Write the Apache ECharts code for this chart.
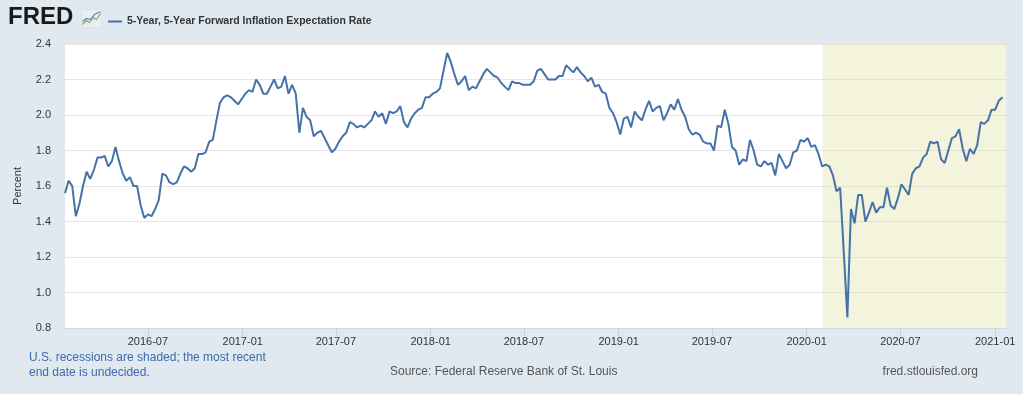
<!DOCTYPE html>
<html><head><meta charset="utf-8">
<script src="https://cdn.jsdelivr.net/npm/echarts@6/dist/echarts.min.js"></script>
<style>html,body{margin:0;padding:0;background:#e1e9f0;}#c{width:1023px;height:394px;}</style>
</head><body><div id="c"></div>
<script>
const seriesName = '5-Year, 5-Year Forward Inflation Expectation Rate';
const weekDates = [
'2016-01-22','2016-01-29','2016-02-05','2016-02-12','2016-02-19','2016-02-26','2016-03-04','2016-03-11','2016-03-18','2016-03-25',
'2016-04-01','2016-04-08','2016-04-15','2016-04-22','2016-04-29','2016-05-06','2016-05-13','2016-05-20','2016-05-27','2016-06-03',
'2016-06-10','2016-06-17','2016-06-24','2016-07-01','2016-07-08','2016-07-15','2016-07-22','2016-07-29','2016-08-05','2016-08-12',
'2016-08-19','2016-08-26','2016-09-02','2016-09-09','2016-09-16','2016-09-23','2016-09-30','2016-10-07','2016-10-14','2016-10-21',
'2016-10-28','2016-11-04','2016-11-11','2016-11-18','2016-11-25','2016-12-02','2016-12-09','2016-12-16','2016-12-23','2016-12-30',
'2017-01-06','2017-01-13','2017-01-20','2017-01-27','2017-02-03','2017-02-10','2017-02-17','2017-02-24','2017-03-03','2017-03-10',
'2017-03-17','2017-03-24','2017-03-31','2017-04-07','2017-04-14','2017-04-21','2017-04-28','2017-05-05','2017-05-12','2017-05-19',
'2017-05-26','2017-06-02','2017-06-09','2017-06-16','2017-06-23','2017-06-30','2017-07-07','2017-07-14','2017-07-21','2017-07-28',
'2017-08-04','2017-08-11','2017-08-18','2017-08-25','2017-09-01','2017-09-08','2017-09-15','2017-09-22','2017-09-29','2017-10-06',
'2017-10-13','2017-10-20','2017-10-27','2017-11-03','2017-11-10','2017-11-17','2017-11-24','2017-12-01','2017-12-08','2017-12-15',
'2017-12-22','2017-12-29','2018-01-05','2018-01-12','2018-01-19','2018-01-26','2018-02-02','2018-02-09','2018-02-16','2018-02-23',
'2018-03-02','2018-03-09','2018-03-16','2018-03-23','2018-03-30','2018-04-06','2018-04-13','2018-04-20','2018-04-27','2018-05-04',
'2018-05-11','2018-05-18','2018-05-25','2018-06-01','2018-06-08','2018-06-15','2018-06-22','2018-06-29','2018-07-06','2018-07-13',
'2018-07-20','2018-07-27','2018-08-03','2018-08-10','2018-08-17','2018-08-24','2018-08-31','2018-09-07','2018-09-14','2018-09-21',
'2018-09-28','2018-10-05','2018-10-12','2018-10-19','2018-10-26','2018-11-02','2018-11-09','2018-11-16','2018-11-23','2018-11-30',
'2018-12-07','2018-12-14','2018-12-21','2018-12-28','2019-01-04','2019-01-11','2019-01-18','2019-01-25','2019-02-01','2019-02-08',
'2019-02-15','2019-02-22','2019-03-01','2019-03-08','2019-03-15','2019-03-22','2019-03-29','2019-04-05','2019-04-12','2019-04-19',
'2019-04-26','2019-05-03','2019-05-10','2019-05-17','2019-05-24','2019-05-31','2019-06-07','2019-06-14','2019-06-21','2019-06-28',
'2019-07-05','2019-07-12','2019-07-19','2019-07-26','2019-08-02','2019-08-09','2019-08-16','2019-08-23','2019-08-30','2019-09-06',
'2019-09-13','2019-09-20','2019-09-27','2019-10-04','2019-10-11','2019-10-18','2019-10-25','2019-11-01','2019-11-08','2019-11-15',
'2019-11-22','2019-11-29','2019-12-06','2019-12-13','2019-12-20','2019-12-27','2020-01-03','2020-01-10','2020-01-17','2020-01-24',
'2020-01-31','2020-02-07','2020-02-14','2020-02-21','2020-02-28','2020-03-06','2020-03-13','2020-03-20','2020-03-27','2020-04-03',
'2020-04-10','2020-04-17','2020-04-24','2020-05-01','2020-05-08','2020-05-15','2020-05-22','2020-05-29','2020-06-05','2020-06-12',
'2020-06-19','2020-06-26','2020-07-03','2020-07-10','2020-07-17','2020-07-24','2020-07-31','2020-08-07','2020-08-14','2020-08-21',
'2020-08-28','2020-09-04','2020-09-11','2020-09-18','2020-09-25','2020-10-02','2020-10-09','2020-10-16','2020-10-23','2020-10-30',
'2020-11-06','2020-11-13','2020-11-20','2020-11-27','2020-12-04','2020-12-11','2020-12-18','2020-12-25','2021-01-01','2021-01-08',
'2021-01-15'
];
const rates = [
1.56,1.63,1.60,1.43,1.50,1.60,1.68,1.64,1.69,1.76,
1.76,1.77,1.71,1.74,1.82,1.74,1.67,1.63,1.65,1.60,
1.60,1.49,1.42,1.44,1.43,1.47,1.52,1.67,1.66,1.62,
1.61,1.62,1.67,1.71,1.70,1.68,1.70,1.78,1.78,1.79,
1.85,1.86,1.97,2.07,2.10,2.11,2.10,2.08,2.06,2.09,
2.12,2.14,
2.13,2.20,2.17,2.12,2.12,2.16,2.20,2.15,
2.16,2.22,2.12,2.17,2.12,1.90,2.04,1.99,1.97,1.88,
1.90,1.91,1.87,1.83,1.79,1.81,1.85,1.88,1.90,1.96,
1.95,1.93,1.94,1.93,1.95,1.97,2.02,1.99,2.01,1.95,
2.02,2.01,2.02,2.05,1.96,1.93,1.98,2.01,2.03,2.04,
2.10,2.10,2.12,2.13,
2.15,2.25,2.35,2.30,2.23,2.17,
2.19,2.22,2.14,2.16,2.15,2.19,2.23,2.26,2.24,2.22,
2.21,2.18,2.16,2.14,2.19,2.18,2.18,2.17,2.17,2.17,
2.19,2.25,2.26,2.23,2.20,2.20,2.20,2.22,2.22,2.28,
2.26,2.24,2.27,2.24,2.22,2.19,2.21,2.16,2.17,2.13,
2.12,2.04,2.01,1.96,1.89,1.98,
1.99,1.93,2.02,1.99,
1.97,2.03,2.08,2.02,2.04,2.05,1.97,2.01,2.06,2.03,
2.09,2.03,1.99,1.92,1.89,1.90,1.89,1.85,1.84,1.84,
1.80,1.94,1.93,2.03,1.95,1.82,1.80,1.72,1.75,1.74,
1.86,1.80,1.72,1.71,1.74,1.72,1.73,1.66,1.78,1.74,
1.70,1.72,1.79,1.80,1.86,1.85,1.87,1.82,
1.83,1.78,
1.71,1.72,1.71,1.66,1.57,1.59,1.23,0.86,1.47,1.39,
1.55,1.55,1.40,1.45,1.51,1.45,1.48,1.48,1.59,1.49,
1.47,1.53,1.61,1.58,1.55,1.67,1.70,1.71,1.76,1.78,
1.85,1.84,1.85,1.75,1.73,1.80,1.87,1.88,1.92,1.81,
1.74,1.81,1.78,1.83,1.96,1.95,1.97,2.03,2.03,2.08,2.10
];
const xRange = ['2016-01-22', '2021-01-22'];
const recession = ['2020-02-01', '2021-01-22'];
const yTicks = { min: 0.8, max: 2.4, step: 0.2 };

const chart = echarts.init(document.getElementById('c'), null, { renderer: 'canvas' });
const FONT = 'Liberation Sans, Arial, Helvetica, sans-serif';
const pad = n => (n < 10 ? '0' : '') + n;
chart.setOption({
  animation: false,
  backgroundColor: '#e1e9f0',
  textStyle: { fontFamily: FONT },
  grid: { left: 65, right: 17, top: 44, bottom: 66, show: true, backgroundColor: '#ffffff', borderWidth: 0 },
  legend: {
    left: 103, top: 11, itemWidth: 14, itemHeight: 2, itemGap: 4,
    icon: 'rect',
    textStyle: { fontSize: 10.5, fontWeight: 'bold', color: '#333333', fontFamily: FONT },
    data: [seriesName]
  },
  xAxis: {
    type: 'time',
    min: xRange[0], max: xRange[1],
    minInterval: 182 * 86400000, maxInterval: 183 * 86400000,
    splitLine: { show: false },
    axisLine: { show: true, lineStyle: { color: '#ccd6eb' } },
    axisTick: { show: true, length: 8, lineStyle: { color: '#c4d2e6' } },
    axisLabel: {
      color: '#333333', fontSize: 11, margin: 8, fontFamily: FONT, hideOverlap: false,
      formatter: v => { const d = new Date(v); return d.getFullYear() + '-' + pad(d.getMonth() + 1); }
    }
  },
  yAxis: {
    type: 'value', min: yTicks.min, max: yTicks.max, interval: yTicks.step,
    name: 'Percent', nameLocation: 'middle', nameGap: 42,
    nameTextStyle: { color: '#333333', fontSize: 11, fontFamily: FONT },
    axisLine: { show: false }, axisTick: { show: false },
    axisLabel: { color: '#333333', fontSize: 11, margin: 14, fontFamily: FONT, formatter: v => v.toFixed(1) },
    splitLine: { show: true, lineStyle: { color: '#e6e6e6', width: 1 } }
  },
  series: [{
    name: seriesName, type: 'line', showSymbol: false, symbol: 'none',
    data: weekDates.map((d, i) => [d, rates[i]]),
    lineStyle: { color: '#4572a7', width: 2 }, itemStyle: { color: '#4572a7' },
    markArea: {
      silent: true,
      itemStyle: { color: 'rgba(218,215,138,0.3)' },
      data: [[{ xAxis: recession[0] }, { xAxis: recession[1] }]]
    }
  }],
  graphic: [
    { type: 'text', left: 8, top: 5, style: { text: 'FRED', font: '900 24px ' + FONT, fill: '#1a1a1a' } },
    { type: 'group', left: 80, top: 9, children: [
      { type: 'rect', shape: { x: 0, y: 0, width: 20, height: 18, r: 2 }, style: { fill: '#e9eef2', stroke: '#d0d8de', lineWidth: 0.5 } },
      { type: 'polyline', shape: { points: [[1,15],[5,11],[8,13],[12,8],[15,10],[19,4]] }, style: { stroke: '#7fb04a', lineWidth: 1.2, fill: null } },
      { type: 'polyline', shape: { points: [[1,12],[5,9],[9,10],[13,5],[19,2]] }, style: { stroke: '#5b86c0', lineWidth: 1.2, fill: null } }
    ]},
    { type: 'text', left: 29, top: 350, style: { text: 'U.S. recessions are shaded; the most recent\nend date is undecided.', font: '12px ' + FONT, fill: '#3d6aa8', lineHeight: 15 } },
    { type: 'text', left: 390, top: 366, style: { text: 'Source: Federal Reserve Bank of St. Louis', font: '12px ' + FONT, fill: '#555555' } },
    { type: 'text', right: 45, top: 366, style: { text: 'fred.stlouisfed.org', font: '12px ' + FONT, fill: '#555555' } }
  ]
});
</script></body></html>
